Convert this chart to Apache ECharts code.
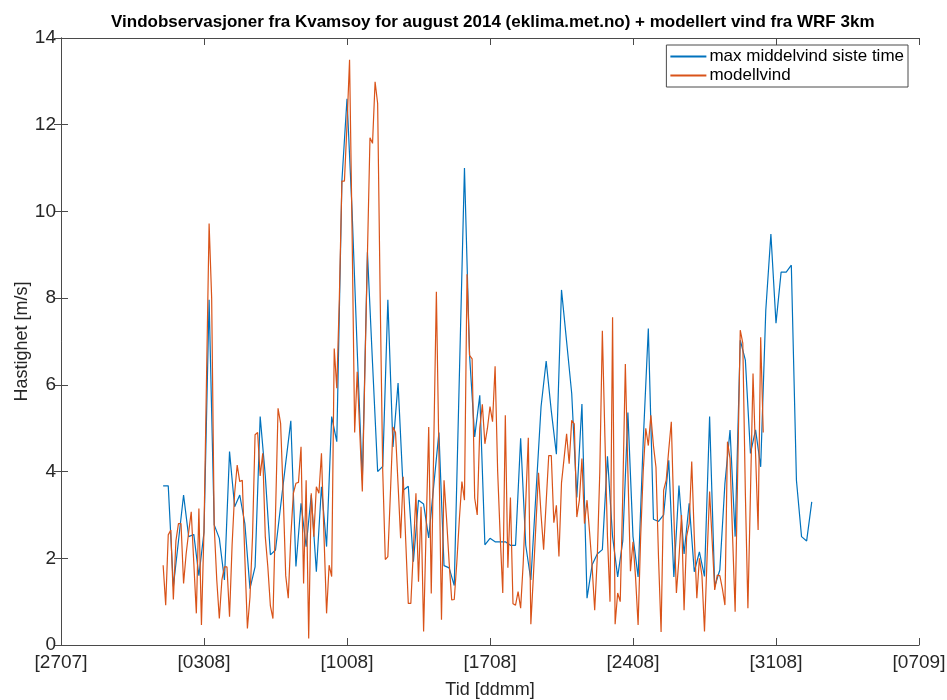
<!DOCTYPE html>
<html><head><meta charset="utf-8">
<script src="https://cdn.jsdelivr.net/npm/echarts/dist/echarts.min.js"></script>
<style>html,body{margin:0;padding:0;background:#fff}#c{width:947px;height:700px}</style>
</head><body><div id="c"></div>
<script>
// x axis: days since 27 Jul 2014
const tickLabels = ['[2707]','[0308]','[1008]','[1708]','[2408]','[3108]','[0709]'];
const xMin = 0, xMax = 42, xInterval = 7;
const yTicks = [0, 2, 4, 6, 8, 10, 12, 14];

// observations: 6-hourly from 1 Aug (day 5)
const obsStartDay = 5, obsStepDays = 0.25;
const obsWind = [
  3.67, 3.67, 1.35, 2.4,
  3.46, 2.5, 2.55, 1.6,
  2.6, 7.96, 2.77, 2.46,
  1.5, 4.46, 3.19, 3.46,
  2.8, 1.3, 1.8, 5.27,
  3.9, 2.08, 2.19, 3.2,
  4.2, 5.17, 1.81, 3.27,
  2.27, 3.46, 1.69, 3.65,
  2.27, 5.27, 4.69, 10.7,
  12.6, 10.0, 6.8, 3.8,
  9.06, 6.5, 4.0, 4.12,
  7.96, 4.57, 6.04, 3.57,
  3.66, 1.92, 3.34, 3.25,
  2.47, 3.7, 4.9, 1.83,
  1.78, 1.37, 6.2, 11.0,
  6.68, 4.8, 5.76, 2.31,
  2.46, 2.38, 2.38, 2.38,
  2.3, 2.3, 4.77, 2.3,
  1.5, 3.5, 5.5, 6.55,
  5.4, 4.4, 8.19, 7.0,
  5.8, 3.4, 5.56, 1.08,
  1.85, 2.1, 2.2, 4.35,
  2.5, 1.57, 2.4, 5.36,
  2.5, 1.57, 4.7, 7.3,
  2.9, 2.85, 3.0, 4.26,
  1.57, 3.68, 2.1, 3.27,
  1.69, 2.15, 1.58, 5.27,
  1.35, 1.73, 3.73, 4.96,
  2.5, 7.03, 6.57, 4.42,
  4.96, 4.11, 7.72, 9.48,
  7.42, 8.6, 8.6, 8.76,
  3.8, 2.5, 2.4, 3.3
];

// WRF model: 3-hourly from 1 Aug (day 5)
const modStartDay = 5, modStepDays = 0.125;
const modWind = [
  1.84, 0.92, 2.54, 2.65, 1.05, 2.4, 2.8, 2.8,
  1.42, 2.1, 2.6, 3.07, 1.9, 0.73, 3.15, 0.46,
  2.65, 6.2, 9.72, 8.0, 2.74, 1.5, 0.61, 1.5,
  1.8, 1.8, 0.65, 2.3, 3.5, 4.15, 3.77, 3.8,
  2.0, 0.38, 1.1, 2.5, 4.85, 4.9, 3.9, 4.42,
  2.5, 1.8, 0.9, 0.61, 3.0, 5.46, 5.11, 3.5,
  1.6, 1.08, 2.5, 3.5, 3.73, 3.75, 4.57, 1.42,
  3.8, 0.15, 3.5, 2.5, 3.65, 3.5, 4.42, 2.5,
  0.73, 1.84, 1.58, 6.84, 5.92, 8.0, 10.7, 10.7,
  12.0, 13.5, 9.5, 4.9, 6.3, 4.9, 3.54, 6.3,
  9.0, 11.7, 11.57, 12.99, 12.49, 8.0, 4.0, 1.97,
  2.04, 3.5, 5.03, 4.9, 3.7, 2.46, 3.88, 2.4,
  0.96, 0.96, 2.2, 3.5, 1.46, 3.19, 0.31, 2.7,
  5.03, 1.19, 4.7, 8.15, 4.4, 0.58, 3.8, 2.9,
  1.9, 1.04, 1.05, 1.9, 2.9, 3.77, 3.34, 8.55,
  6.68, 6.6, 3.39, 3.0, 5.0, 5.55, 4.64, 5.0,
  5.5, 5.15, 6.43, 4.0, 2.5, 1.2, 5.3, 1.78,
  3.4, 0.95, 0.92, 1.23, 0.85, 1.88, 3.3, 4.78,
  0.48, 1.6, 2.8, 3.97, 3.0, 2.2, 3.3, 4.37,
  4.37, 2.82, 3.22, 2.04, 3.74, 4.3, 4.87, 4.18,
  5.18, 5.1, 2.95, 3.34, 4.3, 2.8, 3.34, 2.6,
  1.8, 0.8, 2.0, 4.0, 7.25, 4.8, 2.5, 1.0,
  7.56, 0.48, 1.2, 1.0, 3.5, 6.48, 4.0, 1.7,
  2.38, 1.56, 0.46, 2.5, 4.0, 5.0, 4.6, 5.3,
  4.6, 4.1, 2.0, 0.3, 3.57, 3.8, 4.5, 5.15,
  3.0, 1.2, 2.0, 3.0, 0.8, 2.5, 2.8, 4.23,
  2.5, 1.08, 2.0, 1.6, 0.31, 2.0, 3.54, 2.4,
  1.27, 1.61, 1.6, 1.3, 0.92, 4.69, 4.3, 2.5,
  0.77, 4.0, 7.26, 6.96, 3.5, 0.85, 3.5, 6.26,
  4.4, 2.65, 7.1, 4.9
];

const seriesNames = ['max middelvind siste time', 'modellvind'];
const titleText = 'Vindobservasjoner fra Kvamsoy for august 2014 (eklima.met.no) + modellert vind fra WRF 3km';
const xName = 'Tid [ddmm]', yName = 'Hastighet [m/s]';

const FONT = '"Liberation Sans", Arial, sans-serif';
const AX = '#4a4a4a';

const obsData = obsWind.map((v, i) => [obsStartDay + i * obsStepDays, v]);
const modData = modWind.map((v, i) => [modStartDay + i * modStepDays, v]);

const chart = echarts.init(document.getElementById('c'), null, {renderer: 'canvas'});
const baseX = {
  type: 'value', min: xMin, max: xMax, interval: xInterval,
  axisLine: {show: true, onZero: false, lineStyle: {color: AX, width: 1}},
  axisTick: {show: true, inside: true, length: 7, lineStyle: {color: AX}},
  splitLine: {show: false}
};
const baseY = {
  type: 'value', min: yTicks[0], max: yTicks[yTicks.length - 1], interval: 2,
  axisLine: {show: true, lineStyle: {color: AX, width: 1}},
  axisTick: {show: true, inside: true, length: 7, lineStyle: {color: AX}},
  splitLine: {show: false}
};
chart.setOption({
  animation: false,
  backgroundColor: '#fff',
  title: {
    text: titleText, left: 106, top: 9,
    textStyle: {fontFamily: FONT, fontSize: 17, fontWeight: 'bold', color: '#000'}
  },
  legend: {
    data: seriesNames, orient: 'vertical', right: 39, top: 45,
    itemWidth: 36, itemHeight: 2, itemGap: 2,
    backgroundColor: '#fff', borderColor: AX, borderWidth: 1,
    padding: [3, 4, 3, 4],
    icon: 'rect',
    textStyle: {fontFamily: FONT, fontSize: 17, color: '#000', padding: [0, 0, 0, -2]}
  },
  grid: {left: 61, right: 28, top: 38, bottom: 55, containLabel: false, outerBoundsMode: 'none'},
  xAxis: [
    Object.assign({}, baseX, {
      position: 'bottom',
      name: xName, nameLocation: 'middle', nameGap: 36, nameMoveOverlap: false,
      nameTextStyle: {fontFamily: FONT, fontSize: 18, color: '#262626'},
      axisLabel: {
        margin: 8, fontFamily: FONT, fontSize: 19, color: '#262626',
        formatter: v => tickLabels[Math.round((v - xMin) / xInterval)] || ''
      }
    }),
    Object.assign({}, baseX, {position: 'top', axisLabel: {show: false}})
  ],
  yAxis: [
    Object.assign({}, baseY, {
      position: 'left',
      name: yName, nameLocation: 'middle', nameGap: 30, nameMoveOverlap: false,
      nameTextStyle: {fontFamily: FONT, fontSize: 18, color: '#262626'},
      axisLabel: {margin: 5, fontFamily: FONT, fontSize: 19, color: '#262626'}
    }),
    Object.assign({}, baseY, {position: 'right', axisLabel: {show: false}})
  ],
  series: [
    {
      name: seriesNames[0], type: 'line', data: obsData, xAxisIndex: 0, yAxisIndex: 0,
      showSymbol: false, symbol: 'none', color: '#0072BD',
      lineStyle: {width: 1.2, color: '#0072BD'}
    },
    {
      name: seriesNames[1], type: 'line', data: modData, xAxisIndex: 0, yAxisIndex: 0,
      showSymbol: false, symbol: 'none', color: '#D95319',
      lineStyle: {width: 1.2, color: '#D95319'}
    }
  ]
});
</script>
</body></html>
